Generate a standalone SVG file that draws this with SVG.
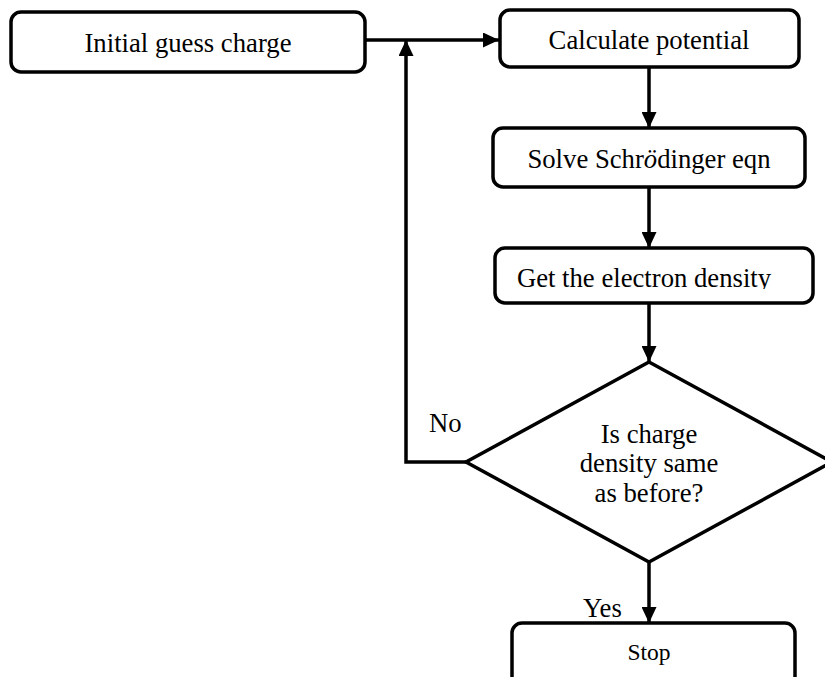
<svg xmlns="http://www.w3.org/2000/svg" width="825" height="677" viewBox="0 0 825 677">
<style>
.box{fill:#fff;stroke:#000;stroke-width:3.5}
.ln{fill:none;stroke:#000;stroke-width:3.5}
</style>
<defs>
<marker id="ah" markerUnits="userSpaceOnUse" markerWidth="16" markerHeight="15" refX="16" refY="7.5" orient="auto">
<path d="M0,0 L16,7.5 L0,15 Z" fill="#000"/>
</marker>
<clipPath id="c3"><rect x="495" y="248" width="318" height="41"/></clipPath>
</defs>
<rect width="825" height="677" fill="#fff"/>
<g id="connectors">
<path class="ln" d="M365,40 H499" marker-end="url(#ah)"/>
<path class="ln" d="M466,462 H406 V40" marker-end="url(#ah)"/>
<path class="ln" d="M649,67 V128" marker-end="url(#ah)"/>
<path class="ln" d="M649,187 V248" marker-end="url(#ah)"/>
<path class="ln" d="M649,303 V362" marker-end="url(#ah)"/>
<path class="ln" d="M649,562 V623" marker-end="url(#ah)"/>
</g>
<g font-family="Liberation Serif, Times New Roman, serif" font-size="26.7" fill="#000">
<g id="lbl-no"><text x="429" y="432">No</text></g>
<g id="lbl-yes"><text x="583" y="617">Yes</text></g>
<g id="n1">
<rect class="box" x="11" y="12" width="354" height="60" rx="10"/>
<text x="188" y="52" text-anchor="middle">Initial guess charge</text>
</g>
<g id="n2">
<rect class="box" x="500" y="10" width="299" height="57" rx="10"/>
<text x="649" y="49" text-anchor="middle">Calculate potential</text>
</g>
<g id="n3">
<rect class="box" x="493" y="128" width="312" height="59" rx="10"/>
<text x="649" y="168" text-anchor="middle">Solve Schr<tspan font-style="italic">ö</tspan>dinger eqn</text>
</g>
<g id="n4">
<rect class="box" x="495" y="248" width="318" height="55" rx="10"/>
<text x="644" y="287" text-anchor="middle" clip-path="url(#c3)">Get the electron density</text>
</g>
<g id="n5">
<path class="box" d="M649,362 L832,462 L649,562 L466,462 Z"/>
<text x="649" y="443" text-anchor="middle">Is charge</text>
<text x="649" y="472" text-anchor="middle">density same</text>
<text x="649" y="502" text-anchor="middle">as before?</text>
</g>
<g id="n6">
<rect class="box" x="512" y="623" width="283" height="70" rx="10"/>
<text x="649" y="660" text-anchor="middle" font-size="23.5">Stop</text>
</g>
</g>
</svg>
